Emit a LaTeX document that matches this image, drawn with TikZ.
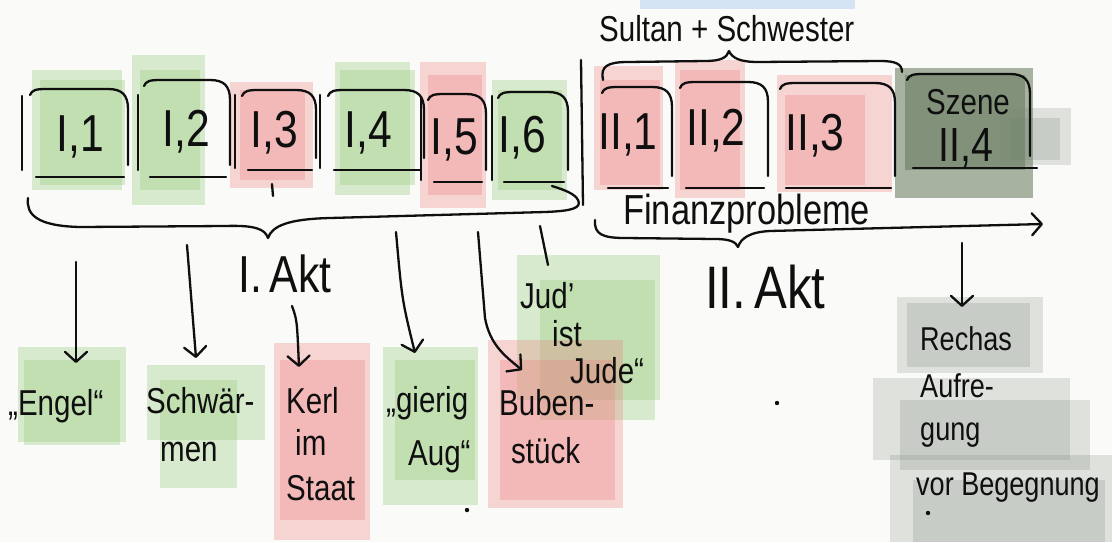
\documentclass[tikz,border=0pt]{standalone}
\usepackage{fontspec}
\setmainfont[FakeStretch=0.82]{Liberation Sans}
\usetikzlibrary{arrows.meta}

\definecolor{paper}{RGB}{250,250,248}
\definecolor{ink}{RGB}{15,15,15}
\definecolor{hgreen}{RGB}{140,200,110}
\definecolor{hred}{RGB}{238,125,125}
\definecolor{hdark}{RGB}{100,120,90}
\definecolor{hgray}{RGB}{110,128,110}
\definecolor{sky}{RGB}{212,228,244}

\tikzset{
  pen/.style={draw=ink, line width=2.3pt, line cap=round, line join=round},
  arr/.style={pen, -{Straight Barb[length=10pt,width=22pt,round]}},
  hlg/.style={fill=hgreen, fill opacity=0.3},
  hlr/.style={fill=hred, fill opacity=0.3},
  hld/.style={fill=hdark, fill opacity=0.55},
  hlk/.style={fill=hgray, fill opacity=0.2},
  scene/.style={text=ink, inner sep=0pt, font=\fontsize{52}{58}\selectfont},
  scenetwo/.style={text=ink, inner sep=0pt, font=\fontsize{48}{54}\selectfont},
  szene/.style={text=ink, inner sep=0pt, font=\fontsize{36}{40}\selectfont},
  lbl/.style={text=ink, inner sep=0pt, anchor=base west, font=\fontsize{36}{40}\selectfont},
  rlbl/.style={lbl, font=\fontsize{33}{38}\selectfont},
  toplbl/.style={text=ink, inner sep=0pt, anchor=base west, font=\fontsize{36}{40}\selectfont},
  finlbl/.style={text=ink, inner sep=0pt, anchor=base west, font=\fontsize{42}{46}\selectfont},
  aktlbl/.style={text=ink, inner sep=0pt, anchor=base west, font=\fontsize{52}{58}\selectfont},
  akttwo/.style={text=ink, inner sep=0pt, anchor=base west, font=\fontsize{60}{66}\selectfont},
}

% scene frame: rounded top-right corner, right stroke, bottom line
\newcommand{\sframe}[4]{%
  \draw[pen] (#1+4,#2+6) .. controls (#1+6,#2+1) and (#1+10,#2) .. (#1+20,#2)
     -- (#3-20,#2) .. controls (#3-6,#2) and (#3,#2+6) .. (#3,#2+20) -- (#3,#4-12);
  \draw[pen] (#1+10,#4) -- (#3-4,#4);}
% single left stroke of a frame
\newcommand{\sside}[3]{\draw[pen] (#1,#2) -- (#1,#3);}

\begin{document}
\begin{tikzpicture}[x=1pt,y=-1pt]
\useasboundingbox (0,0) rectangle (1112,542);
\fill[paper] (0,0) rectangle (1112,542);
\fill[sky] (640,0) rectangle (855,9);

% ---------- marker highlights ----------
% act I scenes
\fill[hlg] (32,70) rectangle (122,190);
\fill[hlg] (40,80) rectangle (125,185);
\fill[hlg] (132,55) rectangle (205,205);
\fill[hlg] (140,70) rectangle (200,190);
\fill[hlr] (230,82) rectangle (313,188);
\fill[hlr] (240,90) rectangle (305,180);
\fill[hlg] (335,62) rectangle (410,195);
\fill[hlg] (340,70) rectangle (415,185);
\fill[hlr] (420,62) rectangle (486,208);
\fill[hlr] (428,75) rectangle (482,195);
\fill[hlg] (492,80) rectangle (567,200);
\fill[hlg] (498,90) rectangle (562,190);
% act II scenes
\fill[hlr] (594,66) rectangle (663,190);
\fill[hlr] (600,80) rectangle (660,185);
\fill[hlr] (675,60) rectangle (745,198);
\fill[hlr] (680,70) rectangle (740,190);
\fill[hlr] (777,75) rectangle (892,192);
\fill[hlr] (785,95) rectangle (865,185);
\fill[hld] (895,68) rectangle (1033,198);
\fill[hld] (905,75) rectangle (1025,170);
\fill[hlk] (1000,108) rectangle (1071,165);
\fill[hlk] (1010,118) rectangle (1060,160);
% notes
\fill[hlg] (18,347) rectangle (126,442);
\fill[hlg] (24,360) rectangle (120,445);
\fill[hlg] (147,365) rectangle (265,440);
\fill[hlg] (160,380) rectangle (237,488);
\fill[hlr] (274,343) rectangle (370,540);
\fill[hlr] (280,360) rectangle (365,520);
\fill[hlg] (383,347) rectangle (478,505);
\fill[hlg] (395,360) rectangle (475,480);
\fill[hlg] (517,255) rectangle (660,400);
\fill[hlg] (540,280) rectangle (655,420);
\fill[hlr] (488,340) rectangle (623,508);
\fill[hlr] (500,360) rectangle (615,500);
\fill[hlk] (897,297) rectangle (1043,373);
\fill[hlk] (907,303) rectangle (1030,367);
\fill[hlk] (873,378) rectangle (1070,460);
\fill[hlk] (900,400) rectangle (1090,470);
\fill[hlk] (890,455) rectangle (1112,542);
\fill[hlk] (913,480) rectangle (1105,542);

% ---------- scene frames ----------
\sside{22}{96}{170}   \sframe{26}{89}{128}{177}
\sside{138}{95}{170}  \sframe{140}{80}{230}{177}
\sside{235}{95}{168}  \sframe{238}{90}{316}{170}
\sside{320}{95}{168}  \sframe{324}{90}{424}{170}
\sside{421}{97}{180}  \sframe{424}{94}{486}{182}
\sside{492}{96}{180}  \sframe{494}{92}{568}{182}
\draw[pen] (581,60) -- (583,205);
\sframe{598}{87}{672}{188}
\sframe{676}{82}{768}{188}
\sframe{776}{83}{895}{188}
\sframe{903}{74}{1030}{168}
\draw[pen] (1026,168) -- (1037,168);
\draw[pen] (272,184) -- (273,196);

% ---------- scene labels ----------
\node[scene] (l11) at (80,137) {I,1};
\node[scene] (l12) at (186,132) {I,2};
\node[scene] (l13) at (274,133) {I,3};
\node[scene] (l14) at (368,133) {I,4};
\node[scene] (l15) at (454,140) {I,5};
\node[scene] (l16) at (522,138) {I,6};
\node[scene] (l21) at (628,135) {II,1};
\node[scene] (l22) at (716,131) {II,2};
\node[scene] (l23) at (815,136) {II,3};
\node[szene] (l24a) at (968,102) {Szene};
\node[scenetwo] (l24b) at (966,148) {II,4};

% ---------- braces ----------
\node[toplbl] (sultan) at (599,41) {Sultan + Schwester};
\draw[pen] (603,80) .. controls (600,66) and (608,62) .. (628,62) -- (705,61)
  .. controls (720,61) and (727,58) .. (729,51)
  .. controls (732,58) and (740,62) .. (758,62) -- (880,61)
  .. controls (896,61) and (902,64) .. (902,72);

\draw[pen] (28,198) .. controls (26,214) and (36,226) .. (80,227) -- (225,226)
  .. controls (255,225) and (265,229) .. (268,238)
  .. controls (272,226) and (288,219) .. (330,218) -- (545,212)
  .. controls (572,211) and (582,208) .. (578,200)
  .. controls (575,194) and (565,190) .. (552,186);

\node[finlbl] (finanz) at (623,224) {Finanzprobleme};
\draw[pen] (595,220) .. controls (594,234) and (602,238) .. (625,238) -- (715,239)
  .. controls (730,239) and (736,242) .. (738,247);
\coordinate (ftip) at (738,247);
\coordinate (fend) at (1043,224);
\draw[arr] (ftip) .. controls (741,238) and (750,232) .. (770,231) -- (fend);

\node[aktlbl] (akt1) at (238,292) {I.\hspace{8pt}Akt};
\node[akttwo] (akt2) at (705,308) {II.\hspace{8pt}Akt};

% ---------- notes ----------
\node[lbl] (engel) at (8,415) {„Engel“};
\node[lbl] (schw1) at (146,413) {Schwär-};
\node[lbl] (schw2) at (160,461) {men};
\node[lbl] (kerl1) at (286,413) {Kerl};
\node[lbl] (kerl2) at (295,455) {im};
\node[lbl] (kerl3) at (286,500) {Staat};
\node[lbl] (gier1) at (386,412) {„gierig};
\node[lbl] (gier2) at (408,465) {Aug“};
\node[lbl] (bub1) at (499,415) {Buben-};
\node[lbl] (bub2) at (511,463) {stück};
\node[lbl] (jud1) at (520,308) {Jud'};
\node[lbl] (jud2) at (552,346) {ist};
\node[lbl] (jud3) at (570,383) {Jude“};
\node[rlbl] (rec1) at (920,350) {Rechas};
\node[rlbl] (rec2) at (920,397) {Aufre-};
\node[rlbl] (rec3) at (920,440) {gung};
\node[rlbl] (rec4) at (916,495) {vor Begegnung};

% ---------- arrows from the braces to the notes ----------
\coordinate (s1) at (76,262);   \coordinate (t1) at (76,363);
\coordinate (s2) at (187,245);  \coordinate (t2) at (196,358);
\coordinate (s3) at (292,306);  \coordinate (t3) at (299,367);
\coordinate (s4) at (396,232);  \coordinate (t4) at (415,353);
\coordinate (s5) at (478,232);  \coordinate (t5) at (522,370);
\coordinate (s6) at (540,226);  \coordinate (t6) at (548,265);
\coordinate (s7) at (962,243);  \coordinate (t7) at (962,307);
\draw[arr] (s1) -- (t1);
\draw[arr] (s2) -- (t2);
\draw[arr] (s3) .. controls (297,320) .. (t3);
\draw[arr] (s4) .. controls (402,300) .. (t4);
\draw[arr] (s5) -- (485,318) .. controls (490,345) and (505,356) .. (t5);
\draw[pen] (s6) -- (t6);
\draw[arr] (s7) -- (t7);

% stray pen dots
\fill[ink] (777,403) circle (2.2pt);
\fill[ink] (928,513) circle (2.2pt);
\fill[ink] (467,510) circle (2.2pt);
\end{tikzpicture}
\end{document}
